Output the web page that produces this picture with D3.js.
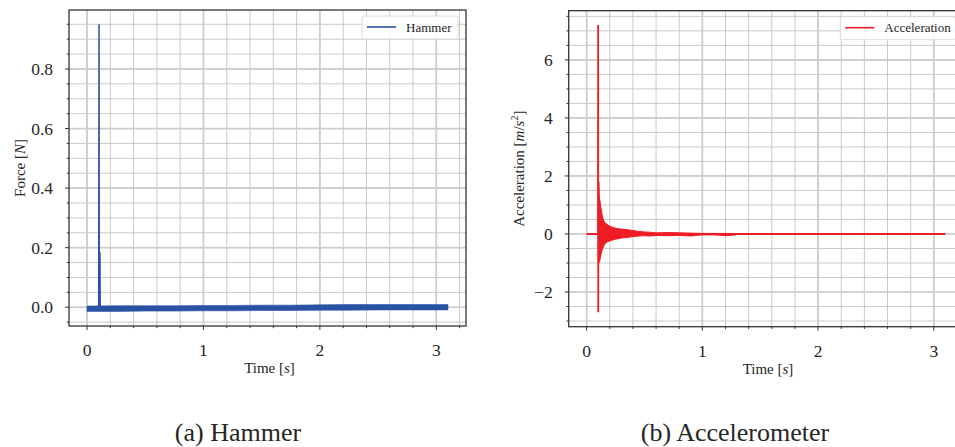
<!DOCTYPE html>
<html>
<head>
<meta charset="utf-8">
<script src="https://cdn.jsdelivr.net/npm/d3@7"></script>
<style>
  html, body { margin: 0; padding: 0; background: #fff; }
  svg text { font-family: "Liberation Serif", "DejaVu Serif", serif; fill: #262626; }
</style>
</head>
<body>
<div id="chart"></div>
<script>
// hammer force [N]: noise band around zero
const hammerBandTime = [0, 0.25, 0.5, 0.75, 1.0, 1.25, 1.5, 1.75, 2.0, 2.25, 2.5, 2.75, 3.0, 3.1];
const hammerBandLow  = [-0.014, -0.014, -0.013, -0.013, -0.012, -0.012, -0.011, -0.011, -0.010, -0.010, -0.009, -0.009, -0.009, -0.009];
const hammerBandHigh = [0.004, 0.005, 0.005, 0.005, 0.006, 0.006, 0.007, 0.007, 0.008, 0.009, 0.009, 0.009, 0.009, 0.009];
// the impact itself
const hammerSpikeTime  = [0.098, 0.100, 0.103, 0.105, 0.108, 0.111, 0.113, 0.116];
const hammerSpikeForce = [-0.004, -0.004, 0.95, 0.01, 0.0, 0.185, -0.004, -0.004];

// accelerometer [m/s^2]: impact spike, then a decaying ringing envelope
const accelSpikeTime = [0.098, 0.0995, 0.1005, 0.1015, 0.1025, 0.1035, 0.105];
const accelSpikeVal  = [0, 7.2, -2.7, 1.8, -1.0, 1.1, 0];
const accelEnvTime  = [0.1, 0.105, 0.11, 0.115, 0.12, 0.13, 0.14, 0.15, 0.17, 0.2, 0.25, 0.3, 0.35, 0.4, 0.45, 0.5, 0.55, 0.6, 0.7, 0.8, 0.9, 1.0, 1.1, 1.2, 1.3];
const accelEnvHigh  = [1.8, 1.8, 1.3, 1.14, 1.0, 0.75, 0.55, 0.45, 0.35, 0.27, 0.2, 0.17, 0.15, 0.12, 0.09, 0.07, 0.06, 0.04, 0.05, 0.04, 0.03, 0.02, 0.02, 0.02, 0.01];
const accelEnvLow   = [-1.0, -1.0, -0.95, -0.9, -0.8, -0.6, -0.5, -0.4, -0.3, -0.24, -0.18, -0.14, -0.12, -0.09, -0.07, -0.06, -0.07, -0.05, -0.06, -0.05, -0.07, -0.03, -0.03, -0.06, -0.02];
const accelBaseTime = [0, 3.1];
const accelBaseVal  = [0, 0];

const timeTicks = [0, 1, 2, 3];
const forceTicks = [0.0, 0.2, 0.4, 0.6, 0.8];
const accelTicks = [-2, 0, 2, 4, 6];

const blue = '#2a52a3';
const red = '#ee1d25';

const svg = d3.select('#chart').append('svg')
  .attr('width', 955)
  .attr('height', 447);

function panel(opt) {
  const g = svg.append('g');
  const x = d3.scaleLinear().domain([-0.155, 3.255]).range([opt.left, opt.right]);
  const y = d3.scaleLinear().domain(opt.yDomain).range([opt.bottom, opt.top]);

  const clipId = 'clip' + opt.id;
  g.append('clipPath').attr('id', clipId).append('rect')
    .attr('x', opt.left).attr('y', opt.top)
    .attr('width', opt.right - opt.left).attr('height', opt.bottom - opt.top);

  const grid = g.append('g');
  const xMinor = d3.range(-0.2, 3.4, 0.2).filter(v => x(v) > opt.left && x(v) < opt.right);
  const yMinor = d3.range(opt.yDomain[0] - opt.yMinorStep, opt.yDomain[1], opt.yMinorStep)
    .map(v => Math.round(v / opt.yMinorStep) * opt.yMinorStep)
    .filter(v => y(v) > opt.top && y(v) < opt.bottom);

  grid.selectAll('.xmin').data(xMinor).enter().append('line')
    .attr('x1', d => x(d)).attr('x2', d => x(d))
    .attr('y1', opt.top).attr('y2', opt.bottom)
    .attr('stroke', '#bdbdbd').attr('stroke-width', 0.8);
  grid.selectAll('.ymin').data(yMinor).enter().append('line')
    .attr('y1', d => y(d)).attr('y2', d => y(d))
    .attr('x1', opt.left).attr('x2', opt.right)
    .attr('stroke', '#bdbdbd').attr('stroke-width', 0.8);
  grid.selectAll('.xmaj').data(timeTicks).enter().append('line')
    .attr('x1', d => x(d)).attr('x2', d => x(d))
    .attr('y1', opt.top).attr('y2', opt.bottom)
    .attr('stroke', '#cdcdcd').attr('stroke-width', 1.7);
  grid.selectAll('.ymaj').data(opt.yTicks).enter().append('line')
    .attr('y1', d => y(d)).attr('y2', d => y(d))
    .attr('x1', opt.left).attr('x2', opt.right)
    .attr('stroke', '#cdcdcd').attr('stroke-width', 1.7);

  const plot = g.append('g').attr('clip-path', `url(#${clipId})`);
  opt.draw(plot, x, y);

  // spines
  g.append('rect')
    .attr('x', opt.left).attr('y', opt.top)
    .attr('width', opt.right - opt.left).attr('height', opt.bottom - opt.top)
    .attr('fill', 'none').attr('stroke', '#333').attr('stroke-width', 1.3);

  // ticks
  const ticks = g.append('g').attr('stroke', '#333').attr('stroke-width', 1);
  ticks.selectAll('.xt').data(xMinor).enter().append('line')
    .attr('x1', d => x(d)).attr('x2', d => x(d))
    .attr('y1', opt.bottom).attr('y2', d => opt.bottom + (timeTicks.includes(Math.round(d * 10) / 10) ? 4 : 2.2));
  ticks.selectAll('.yt').data(yMinor).enter().append('line')
    .attr('y1', d => y(d)).attr('y2', d => y(d))
    .attr('x1', opt.left).attr('x2', d => opt.left - (opt.yTicks.some(t => Math.abs(t - d) < 1e-9) ? 4 : 2.2));

  g.selectAll('.xl').data(timeTicks).enter().append('text')
    .attr('x', d => x(d)).attr('y', opt.bottom + 30)
    .attr('text-anchor', 'middle').attr('font-size', 17.5)
    .text(d => d);
  g.selectAll('.yl').data(opt.yTicks).enter().append('text')
    .attr('x', opt.left - 16).attr('y', d => y(d) + 6)
    .attr('text-anchor', 'end').attr('font-size', 17.5)
    .text(opt.yFormat);

  const xl = g.append('text')
    .attr('x', (x(0) + x(3.1)) / 2 + 2).attr('y', opt.bottom + 47)
    .attr('text-anchor', 'middle').attr('font-size', 15);
  xl.append('tspan').text('Time [');
  xl.append('tspan').attr('font-style', 'italic').text('s');
  xl.append('tspan').text(']');

  const yl = g.append('text')
    .attr('transform', `translate(${opt.yLabelX},${(opt.top + opt.bottom) / 2}) rotate(-90)`)
    .attr('text-anchor', 'middle').attr('font-size', 15);
  opt.yLabel(yl);

  // legend
  const lg = g.append('g');
  lg.append('rect')
    .attr('x', opt.right - 8 - opt.legendW).attr('y', opt.top + 6)
    .attr('width', opt.legendW).attr('height', 23).attr('rx', 2)
    .attr('fill', '#fff').attr('fill-opacity', 0.85)
    .attr('stroke', '#dcdcdc').attr('stroke-width', 1);
  const lx = opt.right - 8 - opt.legendW + 5;
  lg.append('line')
    .attr('x1', lx).attr('x2', lx + 29)
    .attr('y1', opt.top + 17).attr('y2', opt.top + 17)
    .attr('stroke', opt.color).attr('stroke-width', 1.6);
  lg.append('text')
    .attr('x', lx + 39).attr('y', opt.top + 21.5)
    .attr('font-size', 13).text(opt.legend);

  svg.append('text')
    .attr('x', opt.captionX).attr('y', 441)
    .attr('text-anchor', 'middle').attr('font-size', 26)
    .text(opt.caption);
}

panel({
  id: 'a', left: 69, right: 466, top: 10, bottom: 326,
  yDomain: [-0.063, 0.998], yTicks: forceTicks, yMinorStep: 0.05,
  yFormat: d3.format('.1f'),
  yLabelX: 25,
  yLabel: t => {
    t.append('tspan').text('Force [');
    t.append('tspan').attr('font-style', 'italic').text('N');
    t.append('tspan').text(']');
  },
  color: blue, legend: 'Hammer', legendW: 96,
  caption: '(a) Hammer', captionX: 238,
  draw: (p, x, y) => {
    const band = hammerBandTime.map((t, i) => ({ t, lo: hammerBandLow[i], hi: hammerBandHigh[i] }));
    p.append('path').datum(band)
      .attr('d', d3.area().x(d => x(d.t)).y0(d => y(d.lo)).y1(d => y(d.hi)))
      .attr('fill', blue).attr('stroke', blue).attr('stroke-width', 0.6);
    const spike = hammerSpikeTime.map((t, i) => ({ t, v: hammerSpikeForce[i] }));
    p.append('path').datum(spike)
      .attr('d', d3.line().x(d => x(d.t)).y(d => y(d.v)))
      .attr('fill', 'none').attr('stroke', blue).attr('stroke-width', 1.5);
  }
});

panel({
  id: 'b', left: 568.7, right: 963.3, top: 10.7, bottom: 326.7,
  yDomain: [-3.195, 7.695], yTicks: accelTicks, yMinorStep: 0.5,
  yFormat: d => d < 0 ? '\u2212' + Math.abs(d) : String(d),
  yLabelX: 524,
  yLabel: t => {
    t.append('tspan').text('Acceleration [');
    t.append('tspan').attr('font-style', 'italic').text('m');
    t.append('tspan').text('/');
    t.append('tspan').attr('font-style', 'italic').text('s');
    t.append('tspan').attr('font-size', 10).attr('dy', -6).text('2');
    t.append('tspan').attr('dy', 6).text(']');
  },
  color: red, legend: 'Acceleration', legendW: 115,
  caption: '(b) Accelerometer', captionX: 735,
  draw: (p, x, y) => {
    p.append('path').datum(accelBaseTime.map((t, i) => ({ t, v: accelBaseVal[i] })))
      .attr('d', d3.line().x(d => x(d.t)).y(d => y(d.v)))
      .attr('fill', 'none').attr('stroke', red).attr('stroke-width', 2);
    const env = accelEnvTime.map((t, i) => ({ t, lo: accelEnvLow[i], hi: accelEnvHigh[i] }));
    p.append('path').datum(env)
      .attr('d', d3.area().x(d => x(d.t)).y0(d => y(d.lo)).y1(d => y(d.hi)).curve(d3.curveMonotoneX))
      .attr('fill', red).attr('stroke', red).attr('stroke-width', 1);
    p.append('path').datum(accelSpikeTime.map((t, i) => ({ t, v: accelSpikeVal[i] })))
      .attr('d', d3.line().x(d => x(d.t)).y(d => y(d.v)))
      .attr('fill', 'none').attr('stroke', red).attr('stroke-width', 1.8);
  }
});
</script>
</body>
</html>
